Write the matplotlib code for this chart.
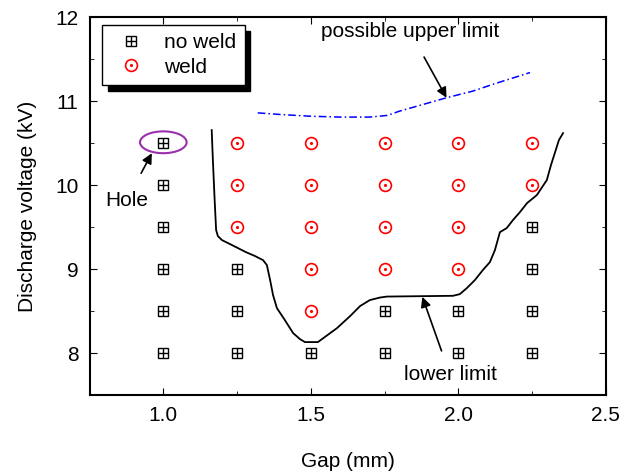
import matplotlib.pyplot as plt
from matplotlib.patches import Ellipse
from matplotlib.legend_handler import HandlerTuple

plt.rcParams['font.family'] = ['Liberation Sans', 'DejaVu Sans']

# datos
nw_x = [1.0, 1.0, 1.0, 1.0, 1.0, 1.0, 1.25, 1.25, 1.25, 1.5, 1.75, 1.75,
        2.0, 2.0, 2.25, 2.25, 2.25, 2.25]
nw_y = [8, 8.5, 9, 9.5, 10, 10.5, 8, 8.5, 9, 8, 8, 8.5,
        8, 8.5, 8, 8.5, 9, 9.5]

w_x = [1.25, 1.25, 1.25, 1.5, 1.5, 1.5, 1.5, 1.5, 1.75, 1.75, 1.75, 1.75,
       2.0, 2.0, 2.0, 2.0, 2.25, 2.25]
w_y = [9.5, 10, 10.5, 8.5, 9, 9.5, 10, 10.5, 9, 9.5, 10, 10.5,
       9, 9.5, 10, 10.5, 10, 10.5]

low_x = [1.164, 1.168, 1.174, 1.179, 1.185, 1.199, 1.226, 1.280, 1.311, 1.338,
         1.351, 1.362, 1.372, 1.385, 1.412, 1.440, 1.463, 1.480, 1.524, 1.547,
         1.589, 1.633, 1.667, 1.700, 1.734, 1.758, 1.982, 2.005, 2.029, 2.056,
         2.083, 2.107, 2.124, 2.141, 2.164, 2.185, 2.209, 2.233, 2.266, 2.300,
         2.314, 2.327, 2.341, 2.355]
low_y = [10.655, 10.298, 9.821, 9.464, 9.393, 9.345, 9.298, 9.202, 9.155, 9.107,
         9.048, 8.869, 8.690, 8.536, 8.393, 8.238, 8.167, 8.131, 8.131, 8.190,
         8.298, 8.440, 8.560, 8.631, 8.661, 8.673, 8.682, 8.702, 8.774, 8.869,
         8.988, 9.083, 9.226, 9.440, 9.488, 9.583, 9.679, 9.786, 9.881, 10.060,
         10.238, 10.381, 10.536, 10.619]

up_x = [1.32, 1.40, 1.50, 1.60, 1.70, 1.76, 1.80, 1.90, 1.96, 2.05, 2.117, 2.243]
up_y = [10.86, 10.84, 10.82, 10.81, 10.81, 10.83, 10.88, 10.98, 11.04, 11.12,
        11.20, 11.34]

fig = plt.figure(figsize=(6.22, 4.76), dpi=100)
ax = fig.add_axes([0.144, 0.170, 0.830, 0.794])

sq, = ax.plot(nw_x, nw_y, 's', ms=7, mfc='none', mec='black', mew=1.0, ls='none')
pl, = ax.plot(nw_x, nw_y, '+', ms=7, mec='black', mew=1.0, ls='none')
ci, = ax.plot(w_x, w_y, 'o', ms=8.5, mfc='none', mec='red', mew=1.2, ls='none')
dt, = ax.plot(w_x, w_y, '.', ms=2.5, color='red', ls='none')

ax.plot(low_x, low_y, '-', color='black', lw=1.3)
ax.plot(up_x, up_y, color='blue', lw=1.1, ls=(0, (5, 2, 1, 2)))

ax.add_patch(Ellipse((1.0, 10.51), 0.158, 0.26, fill=False, ec='#9b2fae', lw=1.5))

ax.annotate('possible upper limit', xy=(1.96, 11.04), xytext=(1.836, 11.83),
            ha='center', va='center', fontsize=15,
            arrowprops=dict(arrowstyle='-|>', color='black', lw=1.2,
                            shrinkA=11, shrinkB=0))
ax.annotate('lower limit', xy=(1.878, 8.67), xytext=(1.972, 7.74),
            ha='center', va='center', fontsize=15,
            arrowprops=dict(arrowstyle='-|>', color='black', lw=1.2,
                            shrinkA=9, shrinkB=0))
ax.annotate('Hole', xy=(0.961, 10.38), xytext=(0.876, 9.82),
            ha='center', va='center', fontsize=15,
            arrowprops=dict(arrowstyle='-|>', color='black', lw=1.2,
                            shrinkA=12, shrinkB=0))

ax.set_xlim(0.75, 2.5)
ax.set_ylim(7.5, 12)
ax.set_xticks([1.0, 1.5, 2.0, 2.5])
ax.set_xticks([0.75, 1.25, 1.75, 2.25], minor=True)
ax.set_yticks([8, 9, 10, 11, 12])
ax.set_yticks([7.5, 8.5, 9.5, 10.5, 11.5], minor=True)
ax.tick_params(which='both', direction='in', top=True, right=True, labelsize=15)
ax.tick_params(which='major', length=5, pad=8)
ax.tick_params(which='minor', length=3)
for s in ax.spines.values():
    s.set_linewidth(1.5)

ax.set_xlabel('Gap (mm)', fontsize=15, labelpad=19)
ax.set_ylabel('Discharge voltage (kV)', fontsize=15, labelpad=13)

leg = ax.legend([(sq, pl), (ci, dt)], ['no weld', 'weld'],
                handler_map={tuple: HandlerTuple(ndivide=1)},
                loc='upper left', bbox_to_anchor=(0.024, 0.979),
                borderaxespad=0, fontsize=15,
                fancybox=False, edgecolor='black', framealpha=1,
                shadow={'color': 'black', 'alpha': 1, 'ox': 4, 'oy': -4},
                handlelength=2.0, handletextpad=0.6, borderpad=0.4,
                labelspacing=0.25)
leg.get_frame().set_linewidth(1.0)

plt.savefig('out.png', dpi=100)
plt.close()
